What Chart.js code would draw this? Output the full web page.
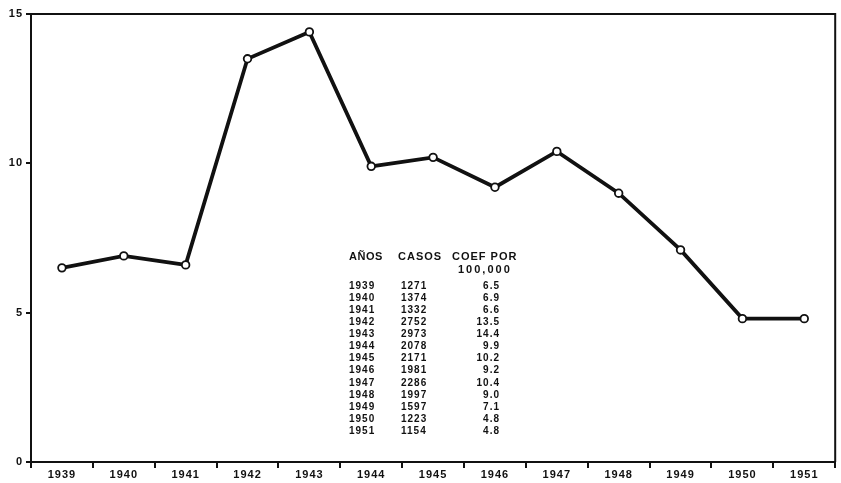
<!DOCTYPE html>
<html lang="es">

<head>
    <meta charset="UTF-8">
    <title>Coeficiente por 100,000 - 1939-1951</title>
    <style>
        html, body {
            margin: 0;
            padding: 0;
            background: #ffffff;
        }

        .chart-wrapper {
            width: 841px;
            height: 483px;
        }
    </style>
</head>

<body>
    <div class="chart-wrapper">
        <canvas id="myChart"></canvas>
    </div>

    <script src="https://cdn.jsdelivr.net/npm/chart.js"></script>

    <script>
        const years = ['1939', '1940', '1941', '1942', '1943', '1944', '1945', '1946', '1947', '1948', '1949', '1950', '1951'];
        const casos = [1271, 1374, 1332, 2752, 2973, 2078, 2171, 1981, 2286, 1997, 1597, 1223, 1154];
        const coef = [6.5, 6.9, 6.6, 13.5, 14.4, 9.9, 10.2, 9.2, 10.4, 9.0, 7.1, 4.8, 4.8];
        const yTicks = [0, 5, 10, 15];

        const FONT = "'Liberation Sans', Arial, sans-serif";

        // spaced lettering like the original drawing
        const spacing = {
            id: 'spacing',
            beforeDraw(chart) {
                chart.ctx.letterSpacing = '1px';
            }
        };

        // frame around the plot (top and right edges)
        const frame = {
            id: 'frame',
            afterDraw(chart) {
                const { ctx, chartArea } = chart;
                ctx.save();
                ctx.strokeStyle = '#111';
                ctx.lineWidth = 2;
                ctx.beginPath();
                ctx.moveTo(chartArea.left, chartArea.top);
                ctx.lineTo(chartArea.right, chartArea.top);
                ctx.lineTo(chartArea.right, chartArea.bottom);
                ctx.stroke();
                ctx.restore();
            }
        };

        // inset table: AÑOS / CASOS / COEF POR 100,000
        const table = {
            id: 'table',
            afterDraw(chart) {
                const ctx = chart.ctx;
                ctx.save();
                ctx.fillStyle = '#111';
                ctx.textBaseline = 'middle';
                ctx.font = 'bold 11px ' + FONT;
                ctx.textAlign = 'left';
                ctx.letterSpacing = '0.5px';
                ctx.fillText('AÑOS', 349, 257);
                ctx.letterSpacing = '1px';
                ctx.fillText('CASOS', 398, 257);
                ctx.fillText('COEF POR', 452, 257);
                ctx.letterSpacing = '2px';
                ctx.fillText('100,000', 458, 270);

                ctx.font = 'bold 10px ' + FONT;
                ctx.letterSpacing = '1px';
                years.forEach((y, i) => {
                    const yy = 286 + i * 12.1;
                    ctx.textAlign = 'left';
                    ctx.fillText(y, 349, yy);
                    ctx.fillText(String(casos[i]), 401, yy);
                    ctx.textAlign = 'right';
                    ctx.fillText(coef[i].toFixed(1), 500, yy);
                });
                ctx.restore();
            }
        };

        const ctx = document.getElementById('myChart').getContext('2d');

        new Chart(ctx, {
            type: 'line',
            data: {
                labels: years,
                datasets: [{
                    data: coef,
                    borderColor: '#111',
                    borderWidth: 3.8,
                    tension: 0,
                    pointRadius: 3.8,
                    pointBackgroundColor: '#ffffff',
                    pointBorderColor: '#111',
                    pointBorderWidth: 1.8
                }]
            },
            options: {
                responsive: true,
                maintainAspectRatio: false,
                animation: false,
                plugins: {
                    legend: { display: false },
                    tooltip: { enabled: false }
                },
                layout: {
                    padding: { top: 14, right: 3, bottom: 0, left: 0 }
                },
                scales: {
                    x: {
                        offset: true,
                        grid: {
                            offset: true,
                            drawOnChartArea: false,
                            color: '#111',
                            lineWidth: 2,
                            tickLength: 6
                        },
                        border: { color: '#111', width: 2 },
                        ticks: {
                            color: '#111',
                            padding: 0,
                            maxRotation: 0,
                            autoSkip: false,
                            font: { family: FONT, size: 11, weight: 'bold' }
                        },
                        afterFit(scale) { scale.height = 21; }
                    },
                    y: {
                        min: 0,
                        max: 15,
                        afterBuildTicks(scale) {
                            scale.ticks = yTicks.map(v => ({ value: v }));
                        },
                        grid: {
                            drawOnChartArea: false,
                            color: '#111',
                            lineWidth: 2,
                            tickLength: 5
                        },
                        border: { color: '#111', width: 2 },
                        ticks: {
                            color: '#111',
                            padding: 3,
                            font: { family: FONT, size: 11, weight: 'bold' }
                        },
                        afterFit(scale) { scale.width = 31; }
                    }
                }
            },
            plugins: [spacing, frame, table]
        });
    </script>
</body>

</html>
